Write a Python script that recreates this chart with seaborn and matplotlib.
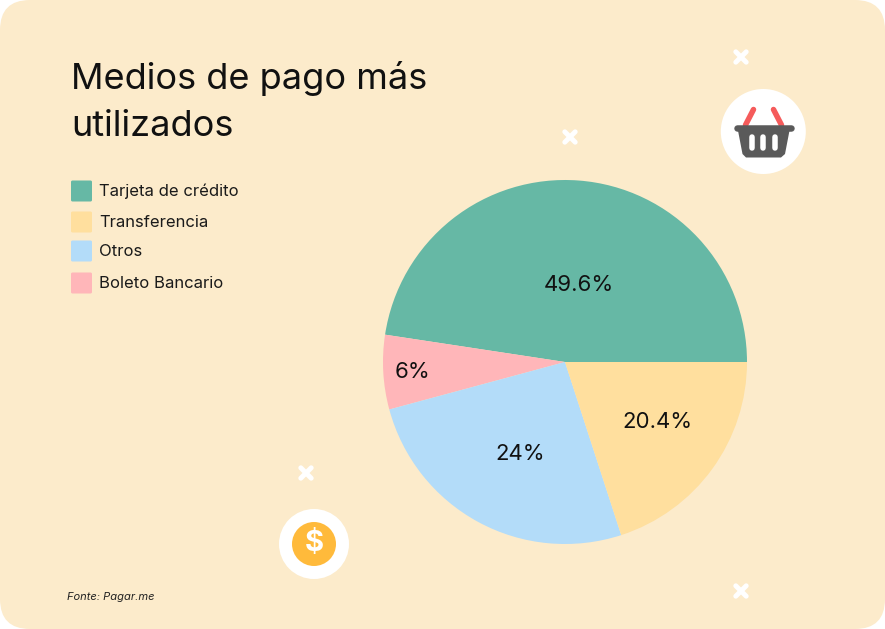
import matplotlib
matplotlib.use("Agg")
import matplotlib.pyplot as plt
import seaborn as sns
from matplotlib.patches import Circle, FancyBboxPatch, Polygon

# Legend order and the text printed on the chart
categories = ["Tarjeta de crédito", "Transferencia", "Otros", "Boleto Bancario"]
printed_labels = ["49.6%", "20.4%", "24%", "6%"]
# Visible wedge shares, by category
wedge_shares = [47.6, 20.0, 25.8, 6.6]
colors = ["#66B8A5", "#FFDF9E", "#B3DCF9", "#FFB6B9"]
title_lines = ["Medios de pago más", "utilizados"]
source = "Fonte: Pagar.me"

BG = "#FCEBCB"
W, H = 885, 629
FONT = "Inter"

sns.set_theme(style="white")
plt.rcParams["font.family"] = [FONT, "DejaVu Sans"]

fig = plt.figure(figsize=(W / 100, H / 100), dpi=100, facecolor="white")

# Overlay canvas in pixel units
bg = fig.add_axes([0, 0, 1, 1], zorder=0)
bg.set_xlim(0, W)
bg.set_ylim(H, 0)
bg.axis("off")
bg.add_patch(FancyBboxPatch((30, 30), W - 60, H - 60,
                            boxstyle="round,pad=30,rounding_size=30",
                            fc=BG, ec="none"))

px = 0.72  # pixels to points

def cross(ax, x, y, s=5.2, lw=5.0):
    for dy in (s, -s):
        ax.plot([x - s, x + s], [y - dy, y + dy], color="white",
                lw=lw * px, solid_capstyle="round")

for x, y in [(741, 57), (570, 137), (306, 473), (741, 591)]:
    cross(bg, x, y)

# Basket icon
bg.add_patch(Circle((763.3, 131.5), 42.5, fc="white", ec="none"))
for a, b in [((745.5, 125), (753.5, 109.5)), ((781.5, 125), (773.5, 109.5))]:
    bg.plot([a[0], b[0]], [a[1], b[1]], color="#F55B5B", lw=5.5 * px,
            solid_capstyle="round")
bg.add_patch(Polygon([(737.5, 128), (790, 128), (785, 154), (781, 157.5),
                      (746, 157.5), (742.5, 154)], closed=True,
                     fc="#5A5A5A", ec="none"))
bg.plot([736.5, 790.5], [127.5, 127.5], color="#5A5A5A", lw=6.5 * px,
        solid_capstyle="round")
for x in (751.8, 763.3, 774.8):
    bg.plot([x, x], [136.5, 147.5], color="white", lw=5.5 * px,
            solid_capstyle="round")

# Coin icon
bg.add_patch(Circle((314, 544), 35, fc="white", ec="none"))
bg.add_patch(Circle((314, 544), 22, fc="#FFBA3B", ec="none"))
bg.text(314, 544, "$", color="white", fontsize=21, fontweight="bold",
        ha="center", va="center", family=[FONT, "DejaVu Sans"])

# Title
for line, y in zip(title_lines, (79, 127)):
    bg.text(71, y, line, fontsize=26, color="#111111", ha="left", va="center")

# Legend
for name, col, y in zip(categories, colors, (191, 222, 251, 283)):
    bg.add_patch(FancyBboxPatch((71, y - 10.5), 21, 21,
                                boxstyle="round,pad=0,rounding_size=1.5",
                                fc=col, ec="none"))
    bg.text(99, y + 0.5, name, fontsize=12, color="#1a1a1a", ha="left", va="center")

bg.text(67, 597, source, fontsize=8, style="italic", color="#222222",
        ha="left", va="center")

# Pie, with the box set to the reference's circle
cx, cy, r = 565, 362, 182
pie_ax = fig.add_axes([(cx - r) / W, 1 - (cy + r) / H, 2 * r / W, 2 * r / H],
                      zorder=1)
order = [0, 3, 2, 1]
pie_ax.pie([wedge_shares[i] for i in order],
           colors=[colors[i] for i in order],
           startangle=0, counterclock=True, radius=1.0,
           wedgeprops={"edgecolor": "none", "linewidth": 0})
pie_ax.set_xlim(-1, 1)
pie_ax.set_ylim(-1, 1)
pie_ax.set_aspect("equal")

# Printed labels above the pie
top = fig.add_axes([0, 0, 1, 1], zorder=2)
top.set_xlim(0, W)
top.set_ylim(H, 0)
top.axis("off")
for txt, (x, y) in zip(printed_labels,
                       [(579, 285), (657, 422), (520, 454), (413, 372)]):
    top.text(x, y, txt, fontsize=16, color="#111111", ha="center", va="center")

fig.savefig("out.png", dpi=100, facecolor="white")
